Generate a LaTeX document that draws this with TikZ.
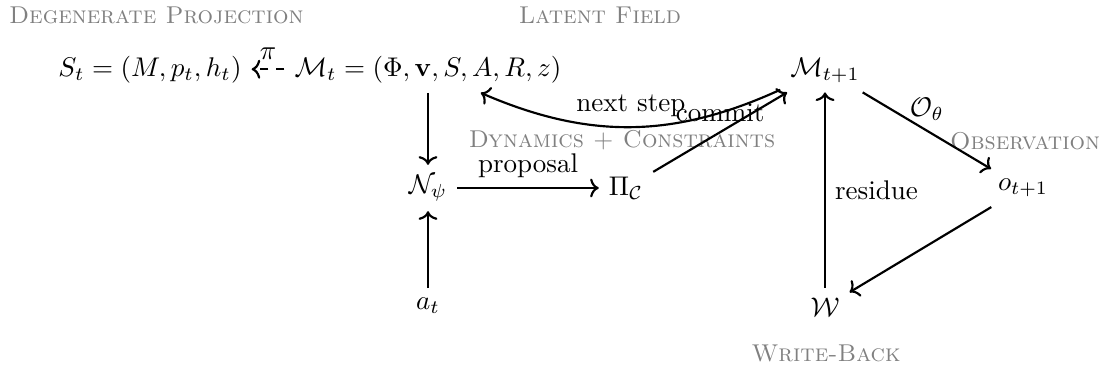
\documentclass[tikz,border=0pt]{standalone}
\usepackage{amsmath,amssymb}
\usetikzlibrary{arrows.meta}
\begin{document}
\begin{tikzpicture}[x=0.37pt,y=0.37pt,>={Computer Modern Rightarrow[length=3.2pt,width=7pt]},thick,
  lab/.style={font=\small\scshape, text=black!50}]
\useasboundingbox (0,0) rectangle (1102,369);
% labels (y measured from top: Y = 369 - y)
\node[lab, anchor=west, inner sep=0pt] (lp) at (8,354) {Degenerate Projection};
\node[lab] (lf) at (600,354) {Latent Field};
\node[lab] (dc) at (622,229) {Dynamics + Constraints};
\node[lab] (ob) at (1025,228) {Observation};
\node[lab] (wb) at (826,16) {Write-Back};

\node[anchor=base] (St) at (150,293) {$S_t = (M, p_t, h_t)$};
\node[anchor=base] (Mt) at (428,293) {$\mathcal{M}_t = (\Phi, \mathbf{v}, S, A, R, z)$};
\node[anchor=base] (M1) at (825,293) {$\mathcal{M}_{t+1}$};
\node (N) at (428,181) {$\mathcal{N}_\psi$};
\node (P) at (626,181) {$\Pi_{\mathcal{C}}$};
\node (a) at (428,63) {$a_t$};
\node (W) at (825,62) {$\mathcal{W}$};
\node (o) at (1023,181) {$o_{t+1}$};

\draw[->,dashed] (Mt) -- node[above] {$\pi$} (St);
\draw[->] (Mt) -- (N);
\draw[->] (a) -- (N);
\draw[->] (N) -- node[above] {proposal} (P);
\draw[->] (P) -- node[above] {commit} (M1);
\draw[->] (M1) to[bend left=24] node[above] {next step} (Mt);
\draw[->] (M1) -- node[above] {$\mathcal{O}_\theta$} (o);
\draw[->] (o) -- (W);
\draw[->] (W) -- node[right] {residue} (M1);
\end{tikzpicture}
\end{document}
